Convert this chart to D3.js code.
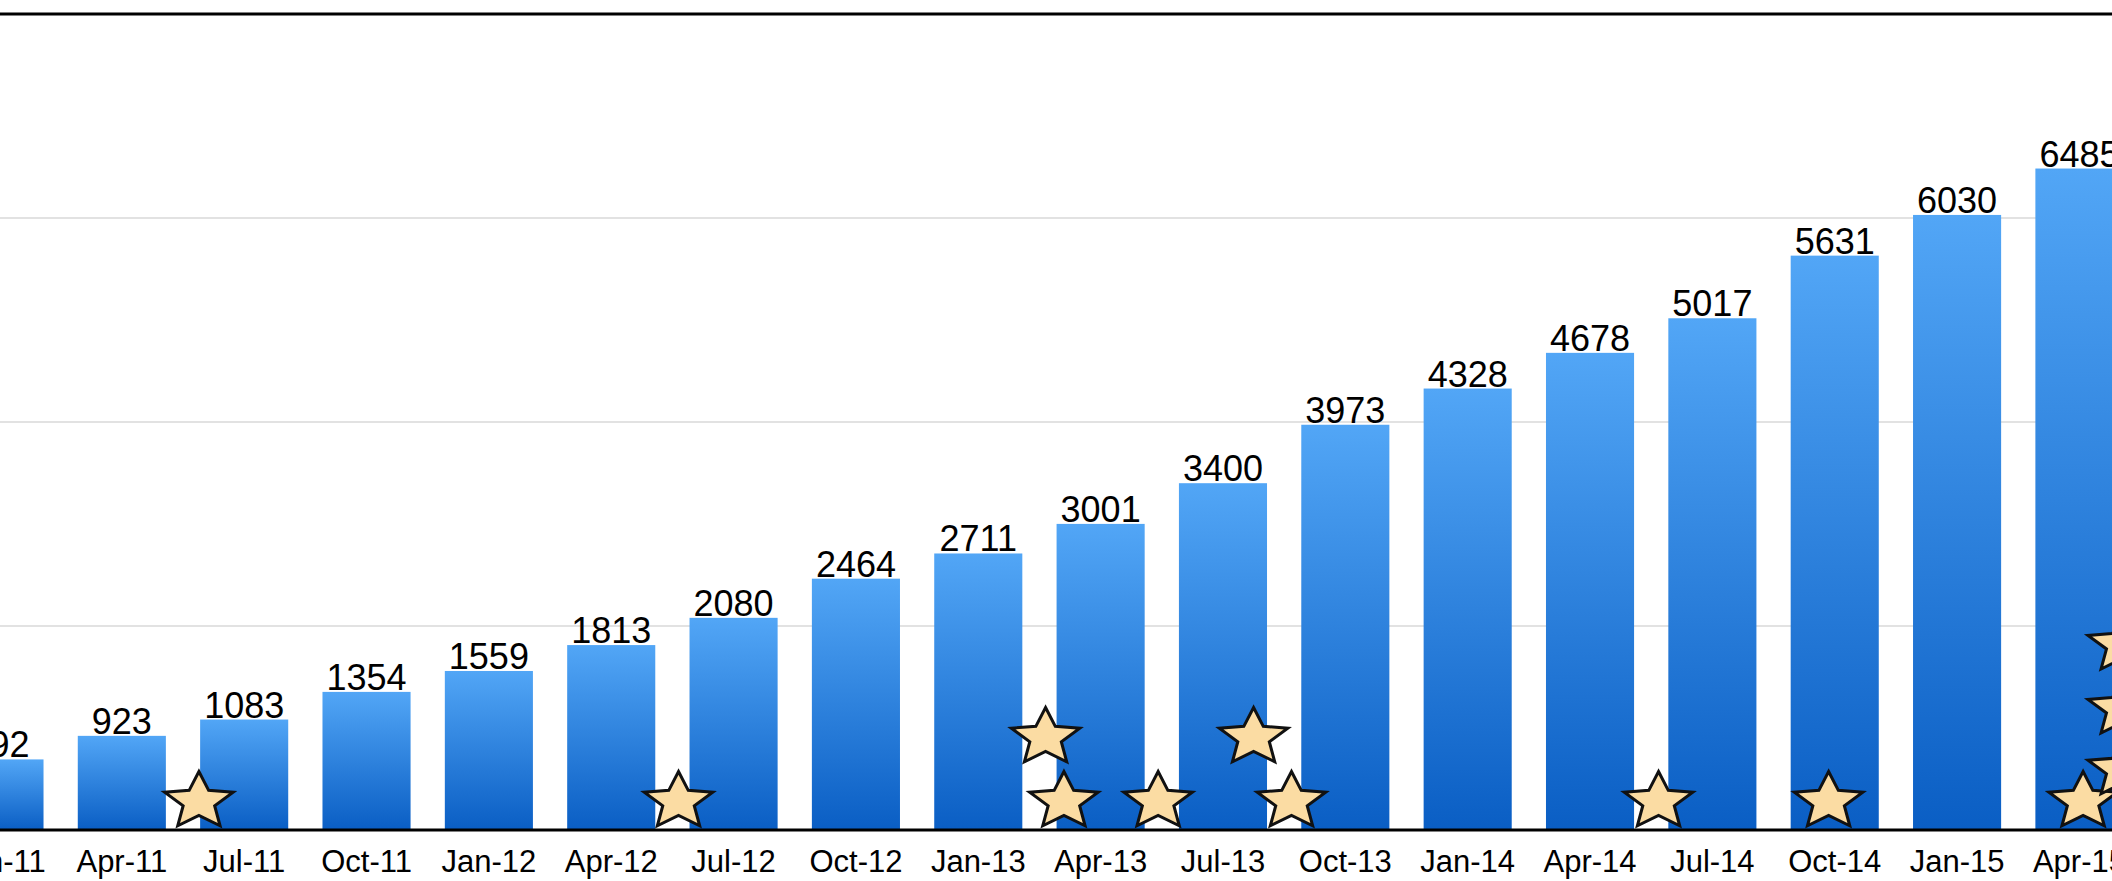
<!DOCTYPE html>
<html>
<head>
<meta charset="utf-8">
<script src="https://cdn.jsdelivr.net/npm/d3@7"></script>
<style>
  body { margin: 0; background: #fff; }
  text { font-family: "Liberation Sans", Arial, Helvetica, sans-serif; fill: #000; }
</style>
</head>
<body>
<svg id="chart"></svg>
<script>
const quarters = ["Jan-11", "Apr-11", "Jul-11", "Oct-11", "Jan-12", "Apr-12", "Jul-12", "Oct-12", "Jan-13",
  "Apr-13", "Jul-13", "Oct-13", "Jan-14", "Apr-14", "Jul-14", "Oct-14", "Jan-15", "Apr-15"];
const counts = [692, 923, 1083, 1354, 1559, 1813, 2080, 2464, 2711, 3001, 3400, 3973, 4328, 4678, 5017, 5631, 6030, 6485];
const gridValues = [2000, 4000, 6000];

// stars: position in quarter index (fractional) and stack level
const starQuarter = [1.63, 5.55, 8.55, 8.70, 9.47, 10.25, 10.56, 13.56, 14.95, 17.03, 17.35, 17.35, 17.35];
const starLevel   = [0,    0,    1,    0,    0,    1,     0,     0,     0,     0,     0.5,   1.45,  2.45];

const width = 2112, height = 881;
const svg = d3.select("#chart").attr("width", width).attr("height", height);

const x = d3.scaleBand()
  .domain(quarters)
  .range([-61.7, 2140.6])
  .paddingInner(0.28)
  .paddingOuter(0.14);

const y = d3.scaleLinear().domain([0, 8000]).range([830, 14]);

const defs = svg.append("defs");
const grad = defs.append("linearGradient")
  .attr("id", "barGrad")
  .attr("x1", 0).attr("y1", 0).attr("x2", 0).attr("y2", 1);
grad.append("stop").attr("offset", "0%").attr("stop-color", "#52a6f6");
grad.append("stop").attr("offset", "100%").attr("stop-color", "#0a5ec4");

// grid lines
svg.append("g")
  .selectAll("line")
  .data(gridValues)
  .enter()
  .append("line")
  .attr("x1", 0).attr("x2", width)
  .attr("y1", d => y(d)).attr("y2", d => y(d))
  .attr("stroke", "#d9d9d9")
  .attr("stroke-width", 1.5);

// top frame line
svg.append("line")
  .attr("x1", 0).attr("x2", width)
  .attr("y1", y(8000)).attr("y2", y(8000))
  .attr("stroke", "#000")
  .attr("stroke-width", 3);

const data = quarters.map((q, i) => ({ q, v: counts[i] }));

svg.append("g")
  .selectAll("rect")
  .data(data)
  .enter()
  .append("rect")
  .attr("x", d => x(d.q))
  .attr("width", x.bandwidth())
  .attr("y", d => y(d.v))
  .attr("height", d => y(0) - y(d.v))
  .attr("fill", "url(#barGrad)");

// value labels
svg.append("g")
  .selectAll("text")
  .data(data)
  .enter()
  .append("text")
  .attr("x", d => x(d.q) + x.bandwidth() / 2)
  .attr("y", d => y(d.v) - 2)
  .attr("text-anchor", "middle")
  .style("font-size", "36px")
  .text(d => d.v);

// x axis
const xAxis = svg.append("g")
  .attr("transform", `translate(0, ${y(0)})`)
  .call(d3.axisBottom(x).tickSize(0).tickPadding(0));
xAxis.select(".domain").remove();
xAxis.append("line")
  .attr("x1", 0).attr("x2", width)
  .attr("stroke", "#000")
  .attr("stroke-width", 3);
xAxis.selectAll(".tick text")
  .attr("y", 42)
  .attr("dy", 0)
  .style("font-size", "31px")
  .style("font-family", "'Liberation Sans', Arial, sans-serif")
  .attr("fill", "#000");

// stars
const xStar = d3.scaleLinear()
  .domain([0, quarters.length - 1])
  .range([x(quarters[0]) + x.bandwidth() / 2, x(quarters[quarters.length - 1]) + x.bandwidth() / 2]);

const rx = 36, ry = 30, inner = 0.46;
function starPath() {
  const pts = [];
  for (let k = 0; k < 10; k++) {
    const a = -Math.PI / 2 + k * Math.PI / 5;
    const r = k % 2 === 0 ? 1 : inner;
    pts.push([Math.cos(a) * r * rx, Math.sin(a) * r * ry]);
  }
  return "M" + pts.map(p => p.join(",")).join("L") + "Z";
}

const stars = starQuarter.map((q, i) => ({ q, level: starLevel[i] }));

svg.append("g")
  .selectAll("path")
  .data(stars)
  .enter()
  .append("path")
  .attr("d", starPath())
  .attr("transform", d => `translate(${xStar(d.q)}, ${y(0) - 28.5 - d.level * 64})`)
  .attr("fill", "#fbdca3")
  .attr("stroke", "#111")
  .attr("stroke-width", 3)
  .attr("stroke-linejoin", "miter");
</script>
</body>
</html>
